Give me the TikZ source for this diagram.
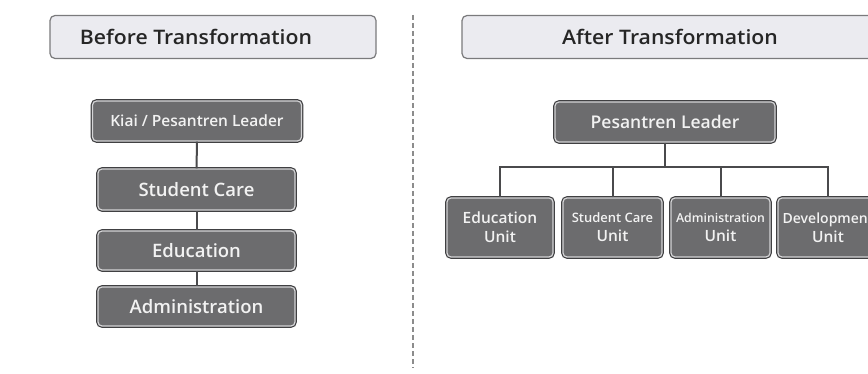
\documentclass[tikz,border=0pt]{standalone}
\usepackage{fontspec}
\setmainfont{Open Sans}
\newfontfamily\semi{Open Sans Semibold}
\newfontfamily\semiwide{Open Sans Semibold}[FakeStretch=1.06]
\definecolor{boxfill}{HTML}{6C6C6E}
\definecolor{boxdark}{HTML}{404042}
\definecolor{boxlight}{HTML}{D4D4D6}
\definecolor{hdrfill}{HTML}{EBEBF0}
\definecolor{hdrline}{HTML}{7A7A7C}
\definecolor{linkc}{HTML}{4A4A4C}
\tikzset{
  orgbox/.style={rectangle, rounded corners=4pt, fill=boxfill, draw=boxlight, line width=1.2pt,
    preaction={draw=boxdark, line width=3.6pt},
    text=white!95!black, inner sep=0pt, align=center},
  hdrbox/.style={rectangle, rounded corners=5pt, fill=hdrfill, draw=hdrline, line width=1.2pt, inner sep=0pt},
  hdrtext/.style={text=black!85, inner sep=0pt, font=\semiwide\fontsize{20}{23}\selectfont},
  link/.style={draw=linkc, line width=2pt},
}
\begin{document}
\begin{tikzpicture}[x=1pt,y=-1pt]
\useasboundingbox (0,0) rectangle (868,374);
\fill[white] (0,0) rectangle (868,374);
\clip (0,0) rectangle (868,374);
% headers
\node[hdrbox, minimum width=326pt, minimum height=43pt] (hb) at (213,37) {};
\node[hdrtext] (hbt) at (196,37) {Before Transformation};
\node[hdrbox, minimum width=416pt, minimum height=43pt] (ha) at (670,37) {};
\node[hdrtext] (hat) at (670,37) {After Transformation};
% divider
\coordinate (d1) at (413,15);
\coordinate (d2) at (413,368);
\draw[draw=black!45, line width=1.6pt, dash pattern=on 5pt off 3pt] (d1) -- (d2);
% left column
\node[orgbox, minimum width=209pt, minimum height=40pt, font=\semi\fontsize{15.5}{18}\selectfont] (kiai) at (197,121) {Kiai / Pesantren Leader};
\node[orgbox, minimum width=197pt, minimum height=41pt, font=\semi\fontsize{18.5}{21}\selectfont] (sc) at (196.5,189.5) {Student Care};
\node[orgbox, minimum width=197pt, minimum height=39pt, font=\semi\fontsize{18.5}{21}\selectfont] (edu) at (196.5,250.5) {Education};
\node[orgbox, minimum width=197pt, minimum height=39pt, font=\semi\fontsize{18.5}{21}\selectfont] (adm) at (196.5,306.5) {Administration};
% right column
\node[orgbox, minimum width=220pt, minimum height=40pt, font=\semi\fontsize{17.5}{20}\selectfont] (pl) at (665,122) {Pesantren Leader};
\node[orgbox, minimum width=106pt, minimum height=59pt, font=\semi\fontsize{15.5}{19}\selectfont] (eu) at (500,227.5) {Education\\Unit};
\node[orgbox, minimum width=99pt, minimum height=59pt, font=\semi\fontsize{15.5}{19}\selectfont] (scu) at (612.5,227.5) {{\fontsize{13}{16}\selectfont Student Care}\\Unit};
\node[orgbox, minimum width=99pt, minimum height=59pt, font=\semi\fontsize{15.5}{19}\selectfont] (au) at (720.5,227.5) {{\fontsize{12.3}{16}\selectfont Administration}\\Unit};
\node[orgbox, minimum width=100pt, minimum height=59pt, font=\semi\fontsize{15.5}{19}\selectfont] (du) at (828,227.5) {{\fontsize{14}{16}\selectfont Development}\\Unit};
% connectors
\coordinate (bus) at (665,167);
\draw[link] (kiai) -- (sc);
\draw[link] (sc) -- (edu);
\draw[link] (edu) -- (adm);
\draw[link] (pl) -- (bus);
\draw[link] (eu.north) |- (bus) -| (du.north);
\draw[link] (scu.north) -- (scu.north |- bus);
\draw[link] (au.north) -- (au.north |- bus);
\end{tikzpicture}
\end{document}
